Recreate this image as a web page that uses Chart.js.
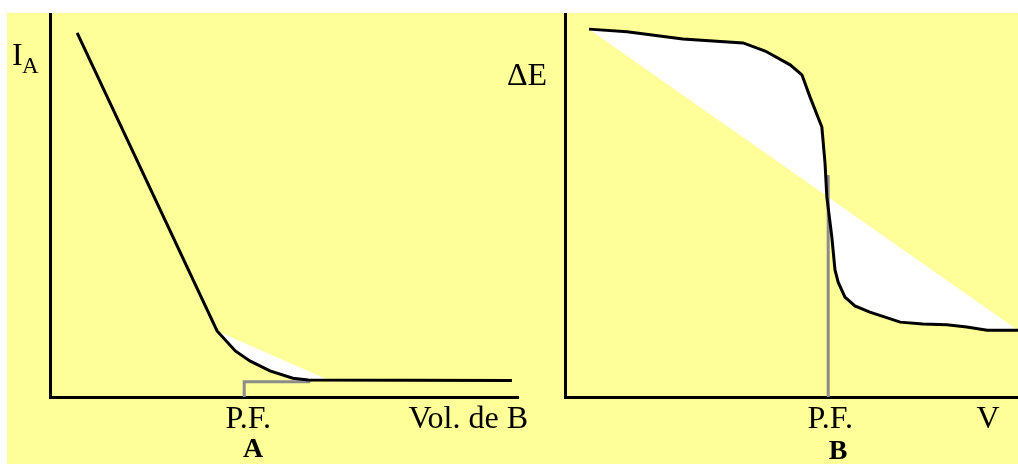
<!DOCTYPE html>
<html>
<head>
<meta charset="utf-8">
<script src="https://cdn.jsdelivr.net/npm/chart.js@4/dist/chart.umd.min.js"></script>
<style>
    body{margin:0;background:#fff;width:1018px;height:464px;overflow:hidden;}
    #panel{position:absolute;left:7px;top:13px;width:1011px;height:451px;background:#FFFF99;}
    canvas{position:absolute;top:13px;}
    #chartA{left:7px;}
    #chartB{left:500px;}
</style>
</head>
<body>
<div id="panel"></div>
<canvas id="chartA" width="533" height="451"></canvas>
<canvas id="chartB" width="518" height="451"></canvas>
<script>

/*A: amperometric titration, current vs volume of B*/
const ampVolume=[5.8, 35.7, 39.6, 42.7, 47.0, 51.9, 55.2, 98.7];
const ampCurrent=[94.8, 17.2, 12.0, 9.4, 6.8, 4.9, 4.4, 4.3];
const ampChordVolume=[35.7, 59.8];
const ampChordCurrent=[17.2, 4.3];
const ampPF=41.5;
const ampGuideVolume=[ampPF, ampPF, 55.6];
const ampGuideCurrent=[0, 4.0, 4.0];

/*B: potentiometric titration, potential vs volume*/
const potVolume=[5.3, 13.7, 26.0, 39.3, 44.2, 49.7, 52.3, 54.1, 56.7, 57.4, 57.8, 58.9, 59.6, 60.3, 61.8, 64.0, 67.3, 74.0, 79.0, 84.3, 88.7, 93.2, 100];
const potDeltaE=[95.8, 95.1, 93.2, 92.2, 90.1, 86.5, 83.9, 78.1, 70.3, 60.9, 52.1, 41.7, 33.1, 29.9, 26.0, 23.7, 22.1, 19.5, 19.0, 18.8, 18.2, 17.4, 17.4];
const potChordVolume=[5.3, 100];
const potChordDeltaE=[95.8, 17.4];
const potPF=58.1;
const potGuideVolume=[potPF, potPF];
const potGuideDeltaE=[0, 57.8];

const serif='"Liberation Serif", "Times New Roman", serif';

function toPoints(xs,ys){
    let points=[];
    for(let i=0;i<xs.length;i++){
        points.push({x:xs[i], y:ys[i]});
    }
    return points;
}

function makeAxis(){
    return {
        type:'linear',
        min:0,
        max:100,
        grid:{display:false, drawTicks:false},
        ticks:{display:false},
        border:{display:true, color:'#000', width:3}
    };
}

function writeText(ctx,text,x,y,font,align){
    ctx.save();
    ctx.font=font;
    ctx.fillStyle='#000';
    ctx.textAlign=align;
    ctx.textBaseline='alphabetic';
    ctx.fillText(text,x,y);
    ctx.restore();
}

function makeGraph(id,curve,chord,guide,tension,padding,labels){
    let canvas=document.getElementById(id).getContext("2d");

    let labelPlugin={
        id:'labels'+id,
        afterDraw(chart){
            labels(chart.ctx, chart.chartArea, chart.scales.x);
        }
    };

    return new Chart(canvas,{
        type:'line',
        data:{
            datasets:[
                {
                    data:curve,
                    borderColor:'#000',
                    borderWidth:3,
                    pointRadius:0,
                    tension:tension,
                    fill:false
                },
                {
                    data:guide,
                    borderColor:'#8c8c8c',
                    borderWidth:3,
                    pointRadius:0,
                    fill:false
                },
                {
                    data:chord,
                    borderWidth:0,
                    borderColor:'rgba(0,0,0,0)',
                    backgroundColor:'#ffffff',
                    pointRadius:0,
                    fill:0
                }
            ]
        },
        options:{
            responsive:false,
            animation:false,
            layout:{padding:padding},
            plugins:{legend:{display:false}, tooltip:{enabled:false}},
            scales:{x:makeAxis(), y:makeAxis()}
        },
        plugins:[labelPlugin]
    });
}

makeGraph("chartA",
    toPoints(ampVolume,ampCurrent),
    toPoints(ampChordVolume,ampChordCurrent),
    toPoints(ampGuideVolume,ampGuideCurrent),
    0,
    {left:43, top:0, right:22, bottom:67},
    function(ctx,area,xScale){
        let pf=xScale.getPixelForValue(ampPF);
        writeText(ctx,"I",area.left-38,area.top+52,'32px '+serif,'left');
        writeText(ctx,"A",area.left-28,area.top+60,'23px '+serif,'left');
        writeText(ctx,"P.F.",pf+4,area.bottom+31,'32px '+serif,'center');
        writeText(ctx,"A",pf+9,area.bottom+60,'bold 28px '+serif,'center');
        writeText(ctx,"Vol. de B",area.right+10,area.bottom+31,'32px '+serif,'right');
    });

makeGraph("chartB",
    toPoints(potVolume,potDeltaE),
    toPoints(potChordVolume,potChordDeltaE),
    toPoints(potGuideVolume,potGuideDeltaE),
    0,
    {left:65, top:0, right:0, bottom:67},
    function(ctx,area,xScale){
        let pf=xScale.getPixelForValue(potPF);
        writeText(ctx,"ΔE",area.left-58,area.top+72,'32px '+serif,'left');
        writeText(ctx,"P.F.",pf+2,area.bottom+31,'32px '+serif,'center');
        writeText(ctx,"B",pf+10,area.bottom+62,'bold 28px '+serif,'center');
        writeText(ctx,"V",area.right-30,area.bottom+31,'32px '+serif,'center');
    });

</script>
</body>
</html>
